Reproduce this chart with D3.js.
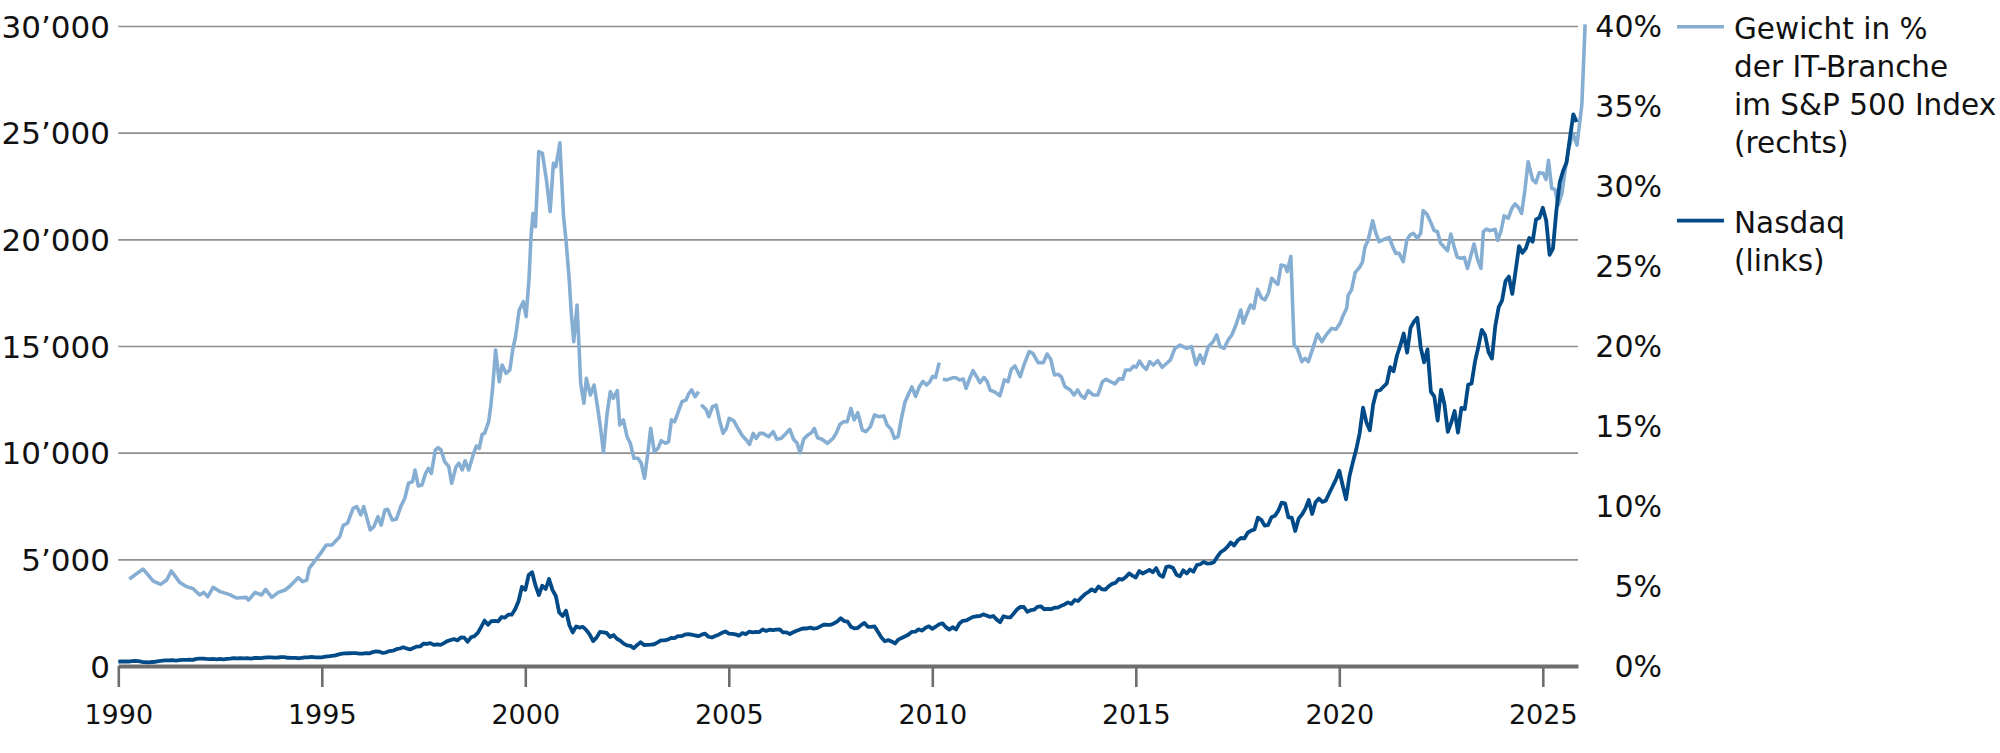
<!DOCTYPE html>
<html><head><meta charset="utf-8">
<script src="https://cdn.jsdelivr.net/npm/d3@7"></script>
<style>
html,body{margin:0;padding:0;background:#fff;}
svg{display:block;}
</style></head><body>
<svg id="chart" width="2000" height="753"></svg>
<script>
// ---------------- data ----------------
const xTickYears = [1990, 1995, 2000, 2005, 2010, 2015, 2020, 2025];
const leftTicks = [0, 5000, 10000, 15000, 20000, 25000, 30000];
const rightTicks = [0, 5, 10, 15, 20, 25, 30, 35, 40];
const legendIt = ["Gewicht in %", "der IT-Branche", "im S&P 500 Index", "(rechts)"];
const legendNdx = ["Nasdaq", "(links)"];

// Nasdaq (monthly closes, Jan 1990 .. Nov 2025)
const ndxStartYear = 1990;
const ndx = [
 205,210,216,210,232,237,226,196,175,170,187,200,
 227,250,264,262,274,257,275,285,285,294,287,331,
 345,350,332,322,330,315,330,315,333,345,368,360,
 372,359,371,351,374,375,370,390,403,408,393,398,
 415,415,386,385,381,364,378,400,404,423,406,404,
 407,434,455,475,497,547,580,589,598,607,601,576,
 577,601,593,649,681,669,609,640,700,716,787,821,
 879,823,775,847,911,917,1053,1036,1075,990,1015,990,
 1071,1165,1220,1262,1200,1337,1330,1140,1345,1400,1553,1836,
 2128,1935,2106,2113,2091,2296,2268,2410,2407,2659,3038,3708,
 3570,4266,4397,3774,3325,3763,3609,4078,3570,3283,2506,2342,
 2594,1908,1574,1855,1800,1830,1684,1469,1170,1329,1596,1577,
 1550,1359,1452,1277,1189,1051,963,943,833,989,1116,984,
 987,1001,1019,1106,1200,1201,1235,1315,1304,1404,1400,1468,
 1494,1468,1438,1400,1468,1516,1371,1336,1405,1466,1557,1621,
 1519,1505,1483,1420,1542,1494,1606,1581,1601,1590,1714,1645,
 1701,1677,1703,1718,1572,1575,1501,1582,1654,1714,1763,1757,
 1798,1755,1772,1860,1942,1934,1932,1993,2091,2239,2107,2085,
 1841,1765,1781,1918,2017,1837,1830,1856,1594,1337,1161,1212,
 1150,1055,1237,1317,1391,1477,1601,1612,1720,1657,1791,1860,
 1740,1843,1956,2000,1821,1707,1819,1711,1989,2117,2134,2218,
 2300,2331,2338,2420,2370,2301,2345,2174,2055,2332,2284,2278,
 2458,2655,2773,2766,2543,2616,2640,2772,2799,2660,2678,2661,
 2732,2738,2819,2887,2982,2910,3096,3048,3218,3364,3470,3592,
 3501,3727,3596,3585,3737,3850,3896,4082,4050,4158,4339,4236,
 4149,4450,4334,4415,4508,4397,4589,4275,4181,4649,4665,4593,
 4280,4202,4484,4341,4524,4418,4731,4771,4875,4801,4810,4864,
 5114,5330,5436,5584,5788,5647,5880,6000,5980,6248,6345,6396,
 6950,6854,6581,6605,6968,7040,7272,7657,7627,6967,6949,6329,
 6907,7099,7378,7781,7127,7672,7849,7692,7749,8084,8412,8733,
 9150,8462,7813,8890,9555,10157,10906,12111,11418,11053,12269,12888,
 12925,13090,13247,14011,13814,14555,15028,15583,14690,15847,16135,16320,
 14930,14238,14839,12855,12643,11504,12948,12272,10971,11406,11952,10940,
 12101,12042,13182,13246,14254,14964,15758,15501,14715,14410,15947,16826,
 17137,18044,18255,17441,18537,19683,19363,19575,20061,19890,20930,21012,
 21478,20884,19278,19571,21340,22679,23218,23600,24750,25858,25500
];

// IT sector weight in the S&P 500 (%); null = gap in the line
const itYears = [
 1990.27,1990.61,1990.86,1991.04,1991.19,1991.30,1991.52,1991.68,1991.84,1992.00,
 1992.10,1992.20,1992.33,1992.50,1992.74,1992.90,1993.15,1993.20,1993.36,1993.52,
 1993.62,1993.77,1993.93,1994.10,1994.22,1994.42,1994.53,1994.63,1994.69,1994.97,
 1995.11,1995.25,1995.44,1995.53,1995.63,1995.77,1995.86,1995.96,1996.03,1996.19,
 1996.28,1996.38,1996.46,1996.55,1996.62,1996.73,1996.83,1996.94,1997.04,1997.13,
 1997.23,1997.29,1997.37,1997.46,1997.55,1997.62,1997.69,1997.79,1997.86,1997.93,
 1998.02,1998.12,1998.19,1998.30,1998.37,1998.45,1998.52,1998.61,1998.73,1998.80,
 1998.87,1998.94,1999.00,1999.10,1999.15,1999.20,1999.27,1999.36,1999.43,1999.53,
 1999.62,1999.69,1999.76,1999.85,1999.95,2000.02,2000.09,2000.14,2000.19,2000.25,
 2000.33,2000.42,2000.52,2000.61,2000.69,2000.75,2000.85,2000.89,2000.94,2001.00,
 2001.08,2001.13,2001.19,2001.27,2001.32,2001.36,2001.44,2001.50,2001.60,2001.69,
 2001.78,2001.85,2001.92,2002.01,2002.09,2002.16,2002.26,2002.32,2002.41,2002.50,
 2002.58,2002.67,2002.77,2002.85,2002.93,2003.01,2003.08,2003.17,2003.26,2003.34,
 2003.45,2003.52,2003.59,2003.67,2003.76,2003.85,2003.95,2004.02,2004.09,2004.17,
 2004.26,2004.29,2004.32,2004.44,2004.51,2004.60,2004.69,2004.77,2004.86,2004.94,
 2005.01,2005.12,2005.20,2005.32,2005.43,2005.51,2005.60,2005.67,2005.76,2005.84,
 2005.98,2006.09,2006.18,2006.29,2006.37,2006.50,2006.59,2006.68,2006.75,2006.84,
 2006.94,2007.03,2007.10,2007.18,2007.29,2007.42,2007.56,2007.64,2007.73,2007.82,
 2007.91,2008.00,2008.08,2008.17,2008.28,2008.37,2008.48,2008.58,2008.68,2008.81,
 2008.89,2008.99,2009.07,2009.16,2009.24,2009.33,2009.42,2009.50,2009.59,2009.68,
 2009.77,2009.86,2009.94,2010.01,2010.08,2010.17,2010.21,2010.26,2010.36,2010.51,
 2010.58,2010.67,2010.76,2010.83,2010.92,2011.00,2011.09,2011.17,2011.27,2011.35,
 2011.42,2011.55,2011.66,2011.77,2011.86,2011.94,2012.03,2012.16,2012.25,2012.38,
 2012.47,2012.60,2012.73,2012.82,2012.91,2013.00,2013.09,2013.17,2013.26,2013.39,
 2013.48,2013.57,2013.66,2013.74,2013.83,2013.95,2014.07,2014.18,2014.27,2014.38,
 2014.49,2014.59,2014.68,2014.75,2014.86,2014.95,2015.01,2015.09,2015.17,2015.26,
 2015.34,2015.43,2015.54,2015.65,2015.76,2015.85,2015.96,2016.09,2016.25,2016.37,
 2016.48,2016.58,2016.66,2016.78,2016.90,2016.99,2017.07,2017.17,2017.27,2017.36,
 2017.46,2017.58,2017.64,2017.72,2017.82,2017.90,2017.99,2018.09,2018.17,2018.26,
 2018.34,2018.44,2018.49,2018.57,2018.67,2018.72,2018.81,2018.89,2018.97,2019.08,
 2019.16,2019.24,2019.35,2019.46,2019.57,2019.69,2019.81,2019.92,2020.02,2020.10,
 2020.18,2020.22,2020.30,2020.39,2020.51,2020.57,2020.63,2020.71,2020.82,2020.90,
 2020.98,2021.10,2021.23,2021.31,2021.39,2021.47,2021.57,2021.66,2021.74,2021.82,
 2021.92,2022.00,2022.06,2022.15,2022.25,2022.33,2022.41,2022.49,2022.58,2022.66,
 2022.74,2022.82,2022.90,2022.99,2023.07,2023.15,2023.23,2023.31,2023.40,2023.48,
 2023.54,2023.62,2023.70,2023.83,2023.89,2023.97,2024.05,2024.15,2024.24,2024.32,
 2024.40,2024.48,2024.56,2024.64,2024.75,2024.83,2024.91,2025.01,2025.08,2025.14,
 2025.22,2025.30,2025.38,2025.47,2025.55,2025.63,2025.74,2025.84,2025.96,2026.04
];
const itWeight = [
 5.44,6.06,5.31,5.10,5.37,5.94,5.20,4.96,4.83,4.44,
 4.60,4.33,4.92,4.65,4.46,4.25,4.29,4.12,4.60,4.44,
 4.79,4.29,4.60,4.75,5.00,5.52,5.27,5.37,6.10,7.04,
 7.56,7.56,8.08,8.81,8.92,9.85,9.96,9.44,9.96,8.50,
 8.71,9.33,8.81,9.75,9.79,9.12,9.17,9.96,10.48,11.42,
 11.52,12.25,11.25,11.31,12.04,12.35,12.04,13.50,13.65,13.50,
 12.77,12.46,11.42,12.46,12.67,12.25,12.83,12.25,13.29,13.75,
 13.60,14.48,14.54,15.27,16.20,17.46,19.75,17.77,18.81,18.29,
 18.50,19.75,20.58,22.25,22.77,21.83,24.12,26.83,28.29,27.46,
 32.15,32.04,30.37,28.40,31.42,31.20,32.70,30.58,28.08,26.62,
 24.12,22.04,20.27,22.56,19.96,17.67,16.42,17.98,16.94,17.56,
 16.10,14.85,13.35,15.79,17.15,16.73,17.21,15.06,15.38,14.33,
 13.92,12.98,12.98,12.67,11.73,13.29,14.85,13.40,13.60,14.08,
 13.92,14.02,15.38,15.27,15.90,16.52,16.63,17.04,17.25,16.83,
 17.15,null,16.33,16.04,15.58,16.21,16.31,15.38,14.54,14.85,
 15.48,15.33,14.96,14.44,14.13,13.85,14.54,14.23,14.54,14.54,
 14.33,14.65,14.17,14.23,14.44,14.79,14.17,13.92,13.33,14.17,
 14.44,14.58,14.85,14.27,14.17,13.92,14.23,14.54,15.10,15.27,
 15.27,16.10,15.38,15.83,14.75,14.65,14.96,15.69,15.58,15.63,
 15.06,14.79,14.23,14.33,15.46,16.50,17.02,17.44,16.85,17.44,
 17.79,17.56,17.77,18.10,18.04,18.96,null,17.92,17.88,18.02,
 18.02,17.88,17.94,17.35,17.98,18.46,18.08,17.71,18.04,17.77,
 17.25,17.10,16.88,17.88,17.77,18.54,18.75,18.08,18.81,19.65,
 19.54,18.96,18.96,19.50,19.17,18.19,18.23,18.08,17.46,17.25,
 16.94,17.25,16.88,16.73,17.21,16.94,16.94,17.77,17.92,17.77,
 17.63,17.96,17.92,18.50,18.50,18.75,18.67,19.06,18.75,18.54,
 19.02,18.81,19.08,18.67,18.92,19.13,19.85,20.06,19.85,19.96,
 18.83,19.44,18.92,19.96,20.27,20.69,19.96,19.85,20.38,20.69,
 21.31,22.25,21.42,21.94,22.56,22.35,23.54,23.00,22.88,23.33,
 24.23,23.96,23.85,25.06,25.00,24.65,25.60,20.06,19.85,19.02,
 19.23,19.02,19.85,20.75,20.27,20.73,21.10,21.04,21.42,21.94,
 22.35,23.19,23.50,24.58,24.96,25.27,26.17,26.63,27.83,27.04,
 26.52,26.67,26.79,26.21,25.79,25.79,25.27,26.63,26.94,27.04,
 26.73,27.04,28.46,28.25,27.71,27.21,27.15,26.42,26.17,25.96,
 27.00,26.21,25.54,25.48,25.54,24.85,25.63,26.38,25.38,24.85,
 27.15,27.31,27.21,27.29,26.60,27.15,28.13,27.98,28.60,28.88,
 28.67,28.29,29.75,31.52,30.40,30.20,30.83,30.79,30.40,31.60,
 29.85,29.79,28.81,29.54,31.00,32.25,33.29,32.56,35.10,40.10
];

// ---------------- chart ----------------
const FONT = "'DejaVu Sans', sans-serif";
const svg = d3.select("#chart");
const x = d3.scaleLinear().domain([1990, 2025.865]).range([118.3, 1578]);
const yL = d3.scaleLinear().domain([0, 30000]).range([666, 26]);
const yR = d3.scaleLinear().domain([0, 40]).range([666, 26]);

// gridlines
const grid = svg.append("g").attr("transform", "translate(118.3,0)")
  .call(d3.axisRight(yL).tickValues(leftTicks).tickSize(1578 - 118.3).tickFormat(""));
grid.select(".domain").remove();
grid.selectAll("line").attr("stroke", "#8e8e8e").attr("stroke-width", 1.6);

// left axis labels
const fmtL = d => d3.format(",")(d).replace(/,/g, "\u2019");
const la = svg.append("g").attr("transform", "translate(110,0)")
  .call(d3.axisLeft(yL).tickValues(leftTicks).tickSize(0).tickPadding(0).tickFormat(fmtL));
la.select(".domain").remove();
la.attr("font-family", FONT).attr("font-size", 31).attr("color", "#111");
la.selectAll("text").attr("dy", "0.36em");

// right axis labels
const ra = svg.append("g").attr("transform", "translate(1662,0)")
  .call(d3.axisRight(yR).tickValues(rightTicks).tickSize(0).tickPadding(0).tickFormat(d => d + "%"));
ra.select(".domain").remove();
ra.attr("font-family", FONT).attr("font-size", 30).attr("color", "#111").attr("text-anchor", "end");
ra.selectAll("text").attr("dy", "0.36em");

// lines
const itData = itYears.map((t, i) => [t, itWeight[i]]);
const ndxData = ndx.map((v, i) => [ndxStartYear + i / 12, v]);

svg.append("path").datum(itData)
  .attr("fill", "none").attr("stroke", "#86aed3").attr("stroke-width", 3.6)
  .attr("stroke-linejoin", "round").attr("stroke-linecap", "butt")
  .attr("d", d3.line().defined(d => d[1] != null).x(d => x(d[0])).y(d => yR(d[1])));

svg.append("path").datum(ndxData)
  .attr("fill", "none").attr("stroke", "#004a87").attr("stroke-width", 3.8)
  .attr("stroke-linejoin", "round")
  .attr("d", d3.line().x(d => x(d[0])).y(d => yL(d[1])));

// bottom axis
const xa = svg.append("g").attr("transform", "translate(0,666)")
  .call(d3.axisBottom(x).tickValues(xTickYears).tickFormat(d => String(d)).tickSize(21).tickSizeOuter(0));
xa.attr("font-family", FONT).attr("font-size", 27).attr("color", "#6e6e6e");
xa.select(".domain").attr("stroke-width", 4);
xa.selectAll(".tick line").attr("stroke-width", 2.6);
xa.selectAll("text").attr("y", 58).attr("dy", 0).attr("fill", "#111");

// legend
const lg = svg.append("g").attr("font-family", FONT).attr("font-size", 29.5).attr("fill", "#111");
lg.append("line").attr("x1", 1677).attr("x2", 1724).attr("y1", 26.7).attr("y2", 26.7)
  .attr("stroke", "#86aed3").attr("stroke-width", 3.6);
lg.append("line").attr("x1", 1677).attr("x2", 1724).attr("y1", 220.7).attr("y2", 220.7)
  .attr("stroke", "#004a87").attr("stroke-width", 3.8);
lg.selectAll("text.it").data(legendIt).enter().append("text").attr("class", "it")
  .attr("x", 1734).attr("y", (d, i) => 39.3 + i * 38).text(d => d);
lg.selectAll("text.ndx").data(legendNdx).enter().append("text").attr("class", "ndx")
  .attr("x", 1734).attr("y", (d, i) => 233 + i * 38).text(d => d);
</script>
</body></html>
